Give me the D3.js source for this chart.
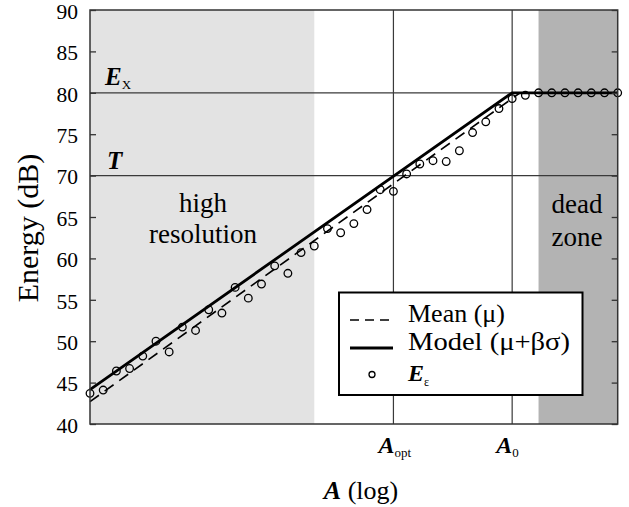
<!DOCTYPE html>
<html>
<head>
<meta charset="utf-8">
<script src="https://cdn.jsdelivr.net/npm/d3@7"></script>
<style>
  html, body { margin: 0; padding: 0; background: #fff; }
  svg { display: block; font-family: "Liberation Serif", "DejaVu Serif", serif; }
</style>
</head>
<body>
<svg id="chart" width="629" height="507"></svg>
<script>
// ---- data (x in log-A index units, 0..40) ----
const sampleIndex = d3.range(0, 41);
const energyEps = [43.7, 44.1, 46.4, 46.7, 48.2, 50.0, 48.7, 51.7, 51.3, 53.8,
                   53.4, 56.5, 55.2, 56.9, 59.1, 58.2, 60.7, 61.5, 63.6, 63.1,
                   64.2, 65.9, 68.3, 68.1, 70.2, 71.4, 71.8, 71.7, 73.0, 75.2,
                   76.5, 78.1, 79.3, 79.7, 80, 80, 80, 80, 80, 80, 80];
const meanX = [0, 32.6, 40];
const meanY = [42.7, 80, 80];
const modelX = [0, 32, 40];
const modelY = [44.15, 80, 80];
const yTicks = [40, 45, 50, 55, 60, 65, 70, 75, 80, 85, 90];
const highResRange = [0, 17];
const deadZoneRange = [34, 40];
const A_opt = 23, A_0 = 32;
const E_X = 80, T = 70;

// ---- layout ----
const svg = d3.select("#chart");
const L = 90, R = 617.7, Tp = 10, B = 424;
const x = d3.scaleLinear().domain([0, 40]).range([L, R]);
const y = d3.scaleLinear().domain([40, 90]).range([B, Tp]);

// background regions
svg.append("rect").attr("x", x(highResRange[0])).attr("y", Tp)
  .attr("width", x(highResRange[1]) - x(highResRange[0])).attr("height", B - Tp)
  .attr("fill", "#e3e3e3");
svg.append("rect").attr("x", x(deadZoneRange[0])).attr("y", Tp)
  .attr("width", x(deadZoneRange[1]) - x(deadZoneRange[0])).attr("height", B - Tp)
  .attr("fill", "#b3b3b3");

// reference lines
[E_X, T].forEach(v => svg.append("line").attr("x1", L).attr("x2", R)
  .attr("y1", y(v)).attr("y2", y(v)).attr("stroke", "#3a3a3a").attr("stroke-width", 1.2));
[A_opt, A_0].forEach(v => svg.append("line").attr("y1", Tp).attr("y2", B)
  .attr("x1", x(v)).attr("x2", x(v)).attr("stroke", "#3a3a3a").attr("stroke-width", 1.2));

// lines
const line = d3.line().x(d => x(d[0])).y(d => y(d[1]));
svg.append("path").datum(meanX.map((v, i) => [v, meanY[i]]))
  .attr("d", line).attr("fill", "none").attr("stroke", "#000")
  .attr("stroke-width", 1.6).attr("stroke-dasharray", "11,7");
svg.append("path").datum(modelX.map((v, i) => [v, modelY[i]]))
  .attr("d", line).attr("fill", "none").attr("stroke", "#000")
  .attr("stroke-width", 2.8);

// points
svg.append("g").selectAll("circle").data(sampleIndex).join("circle")
  .attr("cx", d => x(d)).attr("cy", d => y(energyEps[d]))
  .attr("r", 3.8).attr("fill", "none").attr("stroke", "#000").attr("stroke-width", 1.3);

// frame
svg.append("rect").attr("x", L).attr("y", Tp).attr("width", R - L).attr("height", B - Tp)
  .attr("fill", "none").attr("stroke", "#333").attr("stroke-width", 1.5);

// y axis (ticks inward, both sides)
const yAxisL = d3.axisRight(y).tickValues(yTicks).tickSize(6).tickFormat("");
const gL = svg.append("g").attr("transform", `translate(${L},0)`).call(yAxisL);
gL.select(".domain").remove();
gL.selectAll("line").attr("stroke", "#333").attr("stroke-width", 1.3);
const yAxisR = d3.axisLeft(y).tickValues(yTicks).tickSize(6).tickFormat("");
const gR = svg.append("g").attr("transform", `translate(${R},0)`).call(yAxisR);
gR.select(".domain").remove();
gR.selectAll("line").attr("stroke", "#333").attr("stroke-width", 1.3);

// tick labels
svg.append("g").selectAll("text").data(yTicks).join("text")
  .attr("x", 78).attr("y", d => y(d) + 8.7)
  .attr("text-anchor", "end").attr("font-size", 21.5).attr("fill", "#000")
  .text(d => d);

// axis titles
svg.append("text").attr("transform", "translate(38,228) rotate(-90)")
  .attr("text-anchor", "middle").attr("font-size", 30).text("Energy (dB)");
const xt = svg.append("text").attr("x", 361).attr("y", 499).attr("text-anchor", "middle")
  .attr("font-size", 26);
xt.append("tspan").attr("font-weight", "bold").attr("font-style", "italic").text("A");
xt.append("tspan").text(" (log)");

// x marker labels
function subLabel(xx, yy, main, sub, size, subSize, dy) {
  const t = svg.append("text").attr("x", xx).attr("y", yy).attr("font-size", size);
  t.append("tspan").attr("font-weight", "bold").attr("font-style", "italic").text(main);
  if (sub) t.append("tspan").attr("font-size", subSize).attr("dy", dy).text(sub);
  return t;
}
subLabel(x(A_opt) - 15, 453, "A", "opt", 24, 13, 4);
subLabel(x(A_0) - 16, 453, "A", "0", 24, 13, 4);

// horizontal line labels
subLabel(105, 85, "E", "X", 25, 13, 4);
subLabel(107, 169, "T", null, 25);

// region labels
const hr = svg.append("text").attr("text-anchor", "middle").attr("font-size", 27);
hr.append("tspan").attr("x", 203).attr("y", 212).text("high");
hr.append("tspan").attr("x", 203).attr("y", 243).text("resolution");
const dz = svg.append("text").attr("text-anchor", "middle").attr("font-size", 27);
dz.append("tspan").attr("x", 577).attr("y", 213).text("dead");
dz.append("tspan").attr("x", 577).attr("y", 246).text("zone");

// legend
const lg = svg.append("g");
lg.append("rect").attr("x", 339).attr("y", 292.5).attr("width", 243.5).attr("height", 102.5)
  .attr("fill", "#fff").attr("stroke", "#000").attr("stroke-width", 2);
lg.append("line").attr("x1", 350).attr("x2", 391).attr("y1", 320).attr("y2", 320)
  .attr("stroke", "#000").attr("stroke-width", 1.6).attr("stroke-dasharray", "9,6");
lg.append("line").attr("x1", 350).attr("x2", 393).attr("y1", 348).attr("y2", 348)
  .attr("stroke", "#000").attr("stroke-width", 2.8);
lg.append("circle").attr("cx", 372).attr("cy", 374.5).attr("r", 3)
  .attr("fill", "none").attr("stroke", "#000").attr("stroke-width", 1.3);
lg.append("text").attr("x", 408).attr("y", 322).attr("font-size", 26).text("Mean (μ)");
lg.append("text").attr("x", 408).attr("y", 350).attr("font-size", 26)
  .attr("textLength", 162).attr("lengthAdjust", "spacingAndGlyphs").text("Model (μ+βσ)");
const le = lg.append("text").attr("x", 408).attr("y", 381).attr("font-size", 24);
le.append("tspan").attr("font-weight", "bold").attr("font-style", "italic").text("E");
le.append("tspan").attr("font-size", 12).attr("dy", 5).text("ε");
</script>
</body>
</html>
